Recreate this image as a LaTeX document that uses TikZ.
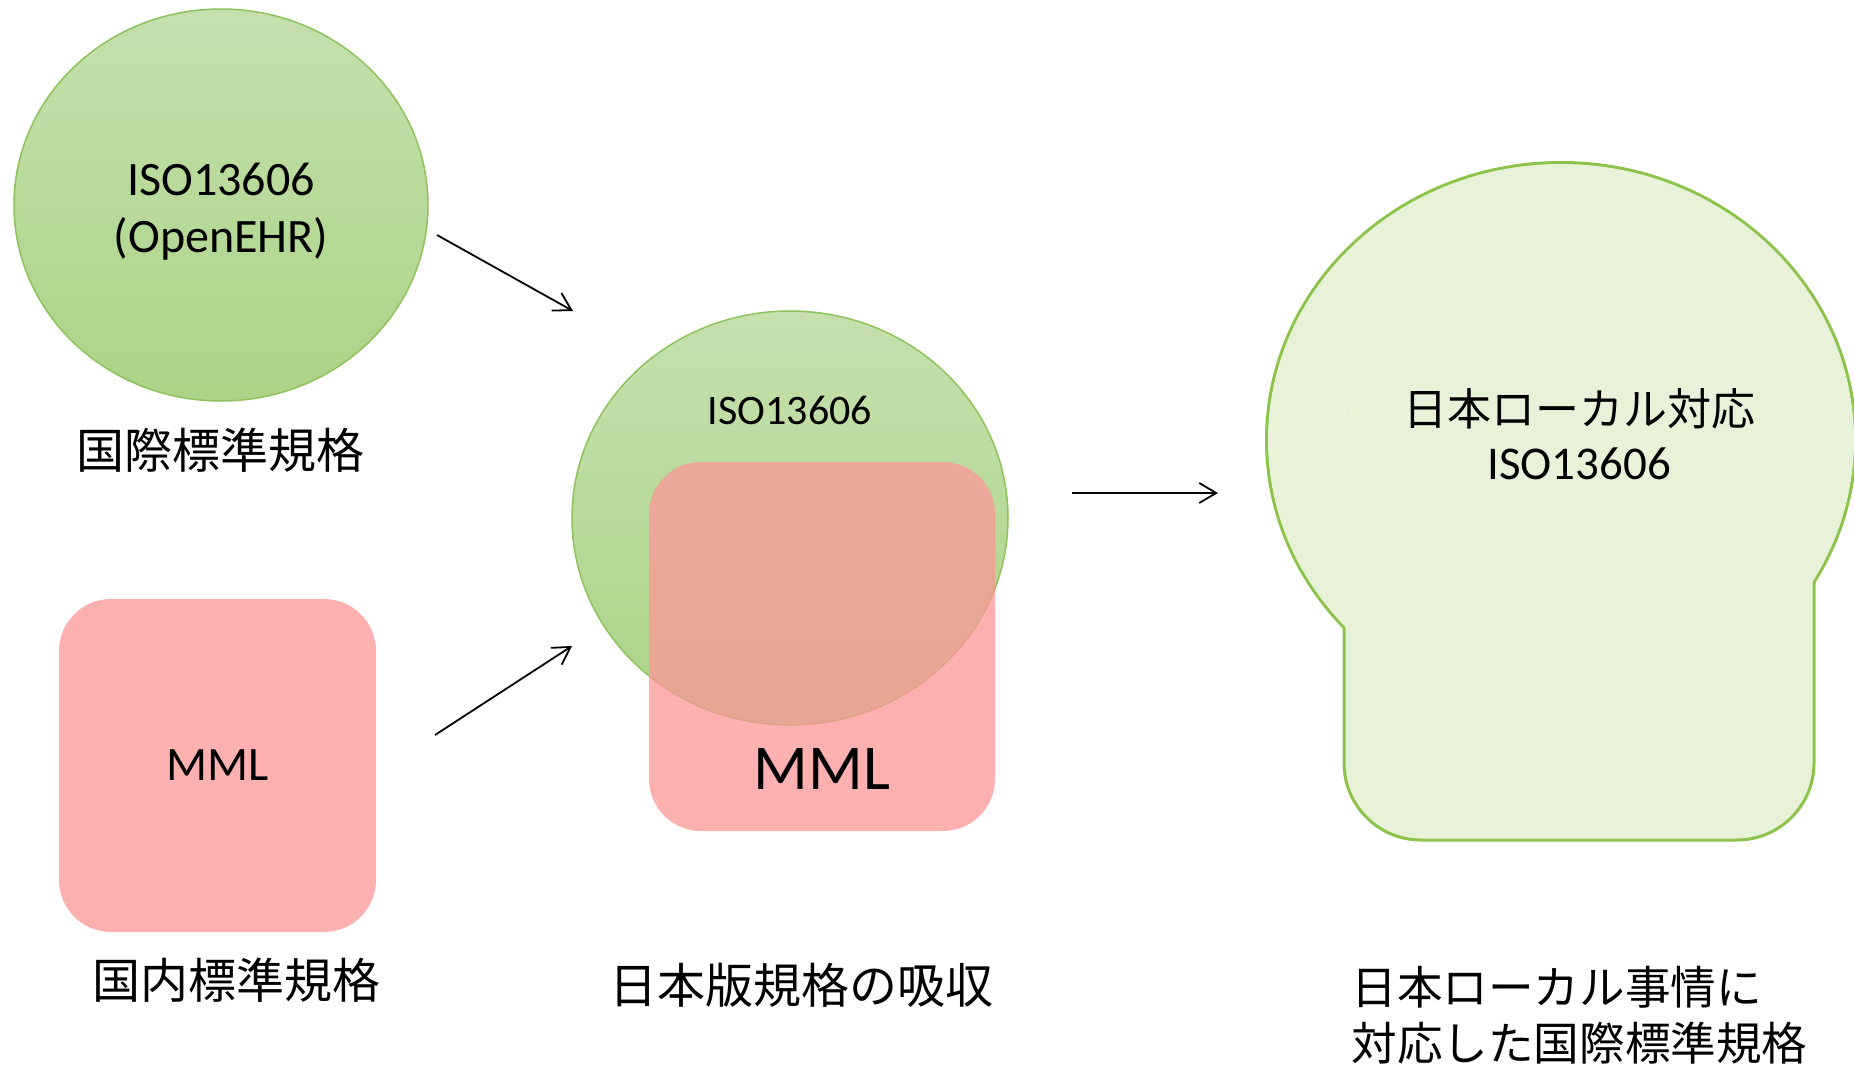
\documentclass[tikz,border=0pt]{standalone}
\usepackage{fontspec}
\setmainfont{Carlito}
\newfontfamily\jpfont{Noto Sans CJK JP}
\usetikzlibrary{shapes.geometric,arrows.meta}

\definecolor{isotop}{RGB}{197,224,174}
\definecolor{isobot}{RGB}{172,211,134}
\definecolor{isoline}{RGB}{142,194,92}
\definecolor{mmlpink}{RGB}{253,176,176}
\definecolor{mmlover}{RGB}{252,150,150}
\definecolor{localfill}{RGB}{232,242,217}
\definecolor{localline}{RGB}{140,195,75}

\tikzset{
  isocircle/.style={ellipse, draw=isoline, line width=0.75pt, top color=isotop, bottom color=isobot, inner sep=0pt},
  mmlbox/.style={rectangle, rounded corners=26pt, fill=mmlpink, inner sep=0pt},
  localbg/.style={fill=localfill, inner sep=0pt},
  latintext/.style={font=\fontsize{24}{28.5}\selectfont, inner sep=0pt},
  caption/.style={font=\jpfont\fontsize{24}{28}\selectfont, inner sep=0pt},
  flow/.style={-{Straight Barb[length=8.5pt,width=10pt]}, line width=0.9pt}
}

\begin{document}
\begin{tikzpicture}[x=0.5pt,y=-0.5pt]
\useasboundingbox (0,0) rectangle (1854,1066);

% international standard
\node[isocircle, minimum width=207pt, minimum height=196pt] (intl) at (221,205) {};
\node[latintext, align=center] (intltext) at (221,212) {ISO13606\\(OpenEHR)};
\node[caption] (intlcap) at (220,450) {国際標準規格};

% domestic standard
\node[mmlbox, latintext, minimum width=158.5pt, minimum height=166.5pt] (natl) at (217.5,765.5) {MML};
\node[caption] (natlcap) at (236,980) {国内標準規格};

% absorbed
\node[isocircle, minimum width=218pt, minimum height=207pt] (merge) at (790,518) {};
\node[latintext, font=\fontsize{21}{25}\selectfont] (mergetext) at (790,410) {ISO13606};
\node[mmlbox, fill=mmlover, fill opacity=0.75, minimum width=173pt, minimum height=184.5pt] (mergebox) at (822,646.5) {};
\node[latintext, font=\fontsize{32}{38}\selectfont] (mergemml) at (822,769) {MML};
\node[caption] (mergecap) at (801,985) {日本版規格の吸収};

% local version
\node[localbg, ellipse, draw=localline, line width=3pt, minimum width=293pt, minimum height=276pt] (localtop) at (1561,440) {};
\node[localbg, rectangle, rounded corners=38.5pt, draw=localline, line width=1.5pt, minimum width=235pt, minimum height=250pt] (localbase) at (1579,590) {};
\node[localbg, ellipse, minimum width=293pt, minimum height=276pt] (localcover) at (localtop) {};
\begin{scope}
\clip (localtop.center) ellipse [x radius=292, y radius=275];
\node[rectangle, rounded corners=38.5pt, draw=localline!15, line width=0.4pt, inner sep=0pt, minimum width=235pt, minimum height=250pt] (localedge) at (localbase) {};
\end{scope}
\node[caption, font=\jpfont\fontsize{22}{26}\selectfont] (localtitle) at (1579,409) {日本ローカル対応};
\node[latintext, font=\fontsize{23.5}{28}\selectfont] (localtext) at (1579,464) {ISO13606};
\node[caption, font=\jpfont\fontsize{22.8}{27}\selectfont, anchor=west] (localcap1) at (1351,987) {日本ローカル事情に};
\node[caption, font=\jpfont\fontsize{22.8}{27}\selectfont, anchor=west] (localcap2) at (1351,1043) {対応した国際標準規格};

% arrows
\coordinate (intlout) at (437,235);
\coordinate (mergein1) at (573,311);
\coordinate (natlout) at (435,735);
\coordinate (mergein2) at (572,646);
\coordinate (mergeout) at (1072,493);
\coordinate (localin) at (1218,493);
\draw[flow] (intlout) -- (mergein1);
\draw[flow] (natlout) -- (mergein2);
\draw[flow] (mergeout) -- (localin);
\end{tikzpicture}
\end{document}
